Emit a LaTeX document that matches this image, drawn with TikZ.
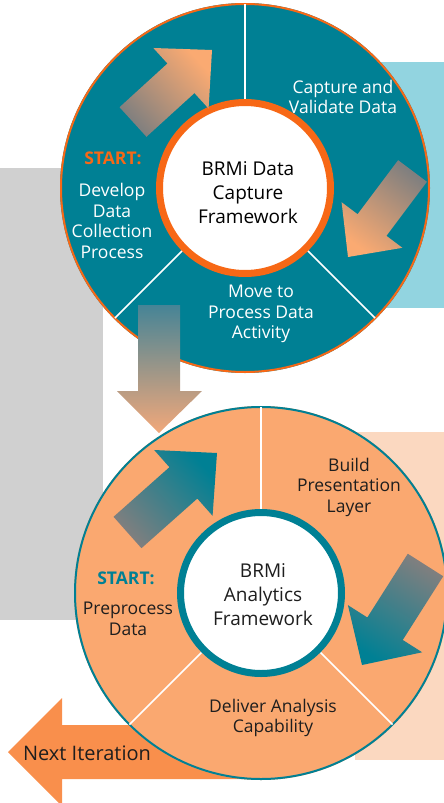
\documentclass[tikz,border=0pt]{standalone}
\usepackage{fontspec}
\setmainfont{Open Sans}
\usetikzlibrary{calc}
\definecolor{tealc}{RGB}{0,128,148}
\definecolor{orring}{RGB}{247,104,22}
\definecolor{lblue}{RGB}{146,212,224}
\definecolor{lgray}{RGB}{208,208,208}
\definecolor{orfill}{RGB}{250,168,112}
\definecolor{peach}{RGB}{251,216,192}
\definecolor{nextor}{RGB}{249,143,76}
\definecolor{dtext}{RGB}{30,30,30}
\definecolor{agray}{RGB}{127,127,127}
\definecolor{aor}{RGB}{250,170,114}
% #1 tail, #2 tip, #3 half shaft, #4 half head, #5 head length, #6 shade options
\newcommand{\gradarrow}[6]{%
  \path ($(#2)!#5!(#1)$) coordinate (gah);
  \shade[#6] ($(#1)!#3!90:(#2)$) -- ($(gah)!#3!90:(#2)$) -- ($(gah)!#4!90:(#2)$) -- (#2)
    -- ($(gah)!#4!-90:(#2)$) -- ($(gah)!#3!-90:(#2)$) -- ($(#1)!#3!-90:(#2)$) -- cycle;
}
\tikzset{
  divider/.style={draw=white, line width=1.6pt},
  toplabel/.style={text=white, align=center, font=\fontsize{17.5}{20.5}\selectfont},
  botlabel/.style={text=dtext, align=center, font=\fontsize{17.5}{20.5}\selectfont},
  centerlabel/.style={align=center, font=\fontsize{19}{24}\selectfont},
  startlabel/.style={font=\fontsize{17.5}{20}\selectfont\bfseries},
}
\begin{document}
\begin{tikzpicture}[x=1pt,y=-1pt]
\useasboundingbox (0,0) rectangle (444,803);
% background rectangles
\fill[lgray] (0,168) rectangle (103,620);
\fill[lblue] (380,62) rectangle (444,308);
\fill[peach] (355,432) rectangle (444,760);
% next iteration arrow
\fill[nextor] (8,752) coordinate (nxtip) -- (62,698) -- (62,725) -- (262,725) -- (262,779) -- (62,779) -- (62,806) -- cycle;
\node[font=\fontsize{20}{22}\selectfont, text=dtext] (next) at (87,753) {Next Iteration};
% top circle
\coordinate (c1) at (245,188);
\fill[tealc] (c1) circle (185);
\draw[orring, line width=2pt] (c1) circle (184);
\draw[divider] ($(c1)+(270:88)$) -- ($(c1)+(270:184)$);
\draw[divider] ($(c1)+(135:88)$) -- ($(c1)+(135:184)$);
\draw[divider] ($(c1)+(45:88)$) -- ($(c1)+(45:184)$);
\draw[orring, fill=white, line width=7pt] (c1) circle (85.5);
% bottom circle
\coordinate (c2) at (261,593);
\fill[orfill] (c2) circle (187);
\draw[tealc, line width=2pt] (c2) circle (186);
\draw[divider] ($(c2)+(270:82)$) -- ($(c2)+(270:186)$);
\draw[divider] ($(c2)+(135:82)$) -- ($(c2)+(135:186)$);
\draw[divider] ($(c2)+(45:82)$) -- ($(c2)+(45:186)$);
\draw[tealc, fill=white, line width=7pt] (c2) circle (80.5);
% gradient arrows
\coordinate (a1t) at (133,122); \coordinate (a1h) at (212,50);
\gradarrow{a1t}{a1h}{20pt}{41pt}{42pt}{top color=aor, bottom color=agray, shading angle=-48}
\coordinate (a2t) at (412.5,171); \coordinate (a2h) at (348,257);
\gradarrow{a2t}{a2h}{18pt}{38pt}{40pt}{top color=aor, bottom color=agray, shading angle=143}
\coordinate (a3t) at (127.5,532.5); \coordinate (a3h) at (217,453);
\gradarrow{a3t}{a3h}{21pt}{44pt}{45pt}{top color=tealc, bottom color=agray, shading angle=-48}
\coordinate (a4t) at (425.5,565); \coordinate (a4h) at (362,665);
\gradarrow{a4t}{a4h}{21pt}{44pt}{43pt}{top color=tealc, bottom color=agray, shading angle=148}
% down arrow between circles
\shade[top color={rgb,255:red,70;green,132;blue,150}, bottom color={rgb,255:red,242;green,168;blue,122}]
  (138,305) -- (138,391) -- (117,391) -- (159,433) coordinate (dtip) -- (202,391) -- (180,391) -- (180,305) -- cycle;
% labels top
\node[startlabel, text=orring] (start1) at (113,158) {START:};
\node[toplabel] (dev) at (112,221) {Develop\\Data\\Collection\\Process};
\node[toplabel] (cap) at (343,97) {Capture and\\Validate Data};
\node[toplabel] (move) at (261,314) {Move to\\Process Data\\Activity};
\node[centerlabel, text=black] (brmi1) at (248,193) {BRMi Data\\Capture\\Framework};
% labels bottom
\node[botlabel] (build) at (349,487) {Build\\Presentation\\Layer};
\node[startlabel, text=tealc] (start2) at (126,578) {START:};
\node[botlabel] (prep) at (128,619) {Preprocess\\Data};
\node[centerlabel, text=dtext] (brmi2) at (263,595) {BRMi\\Analytics\\Framework};
\node[botlabel] (deliver) at (273,718) {Deliver Analysis\\Capability};
\end{tikzpicture}
\end{document}
